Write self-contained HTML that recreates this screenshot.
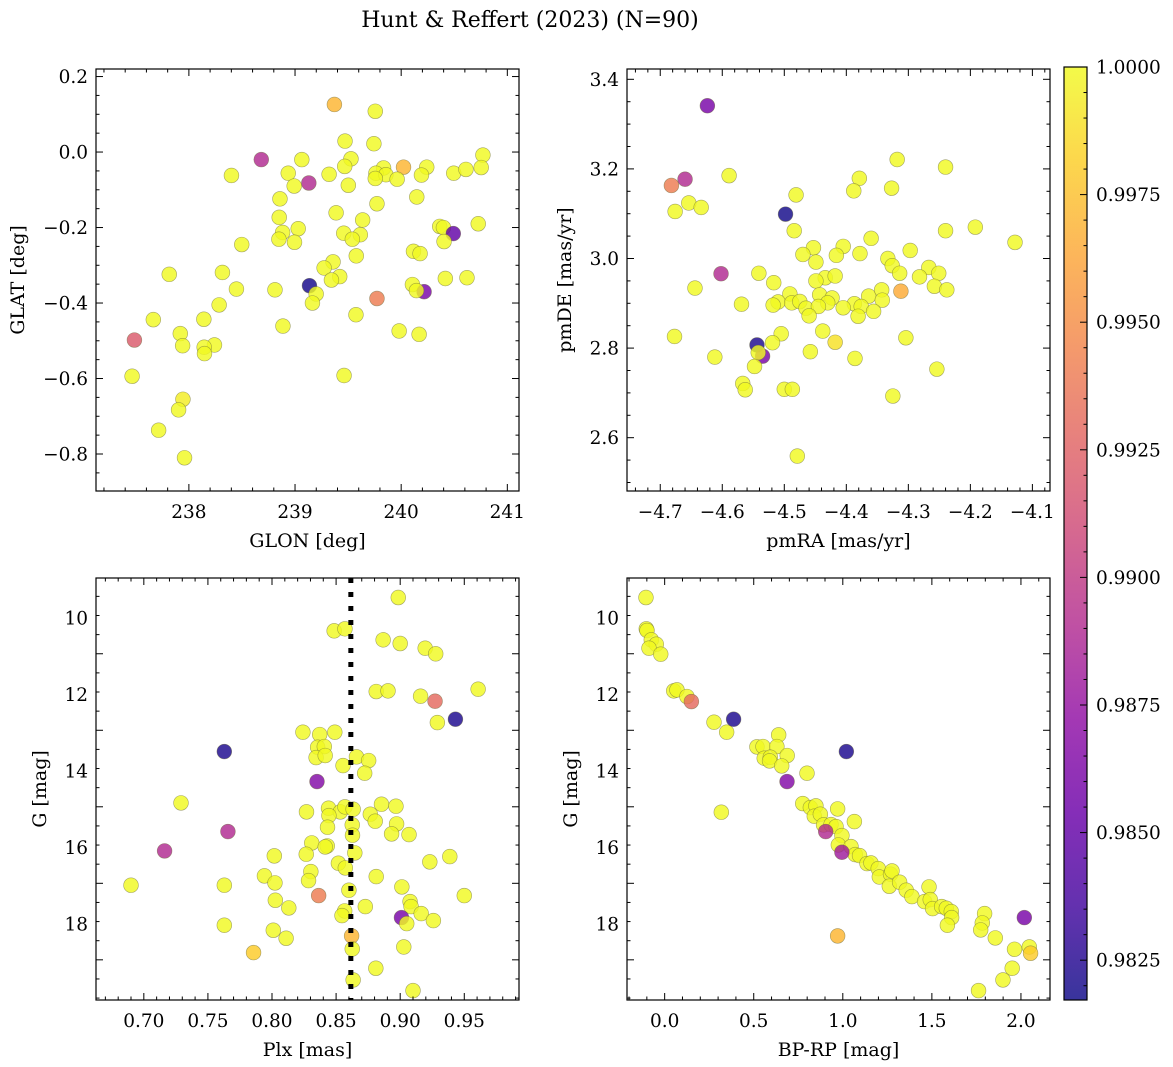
<!DOCTYPE html>
<html><head><meta charset="utf-8"><style>
html,body{margin:0;padding:0;background:#fff;}
svg{display:block;font-family:"DejaVu Serif","Liberation Serif",serif;}
</style></head><body>
<svg id="fig" width="1173" height="1067" viewBox="0 0 1173 1067" xmlns="http://www.w3.org/2000/svg">
<text x="530" y="27" font-size="22" text-anchor="middle">Hunt &amp; Reffert (2023) (N=90)</text>
</svg>
<script>
// ---- Panel 1: GLON / GLAT ----
const p1Glon=[239.371,239.756,239.471,239.743,238.682,239.064,239.527,239.468,240.770,240.022,240.241,239.834,238.401,238.936,239.321,239.762,239.856,240.191,240.495,240.610,240.754,239.756,239.962,239.130,238.992,239.502,238.858,240.147,239.772,239.387,238.851,239.637,240.726,240.363,240.398,239.030,238.883,239.459,240.491,239.615,238.848,239.540,238.995,240.404,238.498,240.116,240.178,239.577,239.358,239.274,237.815,238.316,239.421,239.343,240.416,240.620,239.136,240.106,239.199,238.448,238.811,240.216,240.144,239.772,239.164,238.285,239.574,237.665,238.141,238.886,239.981,240.169,237.919,237.487,237.941,238.241,238.144,238.147,237.465,239.462,237.944,237.903,237.715,237.959];
const p1Glat=[0.126,0.108,0.029,0.022,-0.020,-0.020,-0.018,-0.038,-0.008,-0.040,-0.040,-0.042,-0.062,-0.056,-0.059,-0.056,-0.060,-0.061,-0.056,-0.046,-0.041,-0.070,-0.072,-0.082,-0.090,-0.088,-0.124,-0.119,-0.137,-0.161,-0.173,-0.180,-0.190,-0.197,-0.200,-0.203,-0.213,-0.215,-0.216,-0.219,-0.231,-0.231,-0.239,-0.237,-0.245,-0.263,-0.269,-0.275,-0.291,-0.307,-0.324,-0.319,-0.330,-0.339,-0.335,-0.333,-0.354,-0.351,-0.376,-0.363,-0.365,-0.370,-0.367,-0.388,-0.400,-0.405,-0.431,-0.444,-0.443,-0.461,-0.474,-0.483,-0.481,-0.498,-0.513,-0.511,-0.517,-0.534,-0.594,-0.592,-0.655,-0.683,-0.737,-0.810];
const p1Prob=[0.997,1,1,1,0.989,1,1,1,1,0.997,1,1,1,1,1,1,1,1,1,1,1,1,1,0.989,1,1,1,1,1,1,1,1,1,1,1,1,1,1,0.985,1,1,1,1,1,1,1,1,1,1,1,1,1,1,1,1,1,0.982,1,1,1,1,0.986,1,0.994,1,1,1,1,1,1,1,1,1,0.992,1,1,1,1,1,1,0.9995,1,1,1];
// ---- Panel 2: pmRA / pmDE ----
const p2Pmra=[-4.624,-4.318,-4.240,-4.589,-4.660,-4.682,-4.379,-4.388,-4.327,-4.481,-4.654,-4.634,-4.676,-4.498,-4.484,-4.240,-4.192,-4.128,-4.360,-4.453,-4.405,-4.470,-4.416,-4.378,-4.297,-4.449,-4.333,-4.326,-4.314,-4.267,-4.251,-4.282,-4.602,-4.541,-4.517,-4.434,-4.418,-4.449,-4.258,-4.238,-4.312,-4.644,-4.491,-4.443,-4.423,-4.364,-4.343,-4.342,-4.510,-4.518,-4.488,-4.475,-4.430,-4.387,-4.376,-4.569,-4.465,-4.445,-4.405,-4.356,-4.460,-4.381,-4.677,-4.505,-4.438,-4.304,-4.519,-4.418,-4.544,-4.535,-4.542,-4.612,-4.458,-4.386,-4.548,-4.254,-4.567,-4.563,-4.500,-4.487,-4.325,-4.479];
const p2Pmde=[3.341,3.221,3.204,3.185,3.177,3.163,3.179,3.151,3.157,3.142,3.124,3.114,3.105,3.099,3.062,3.062,3.070,3.036,3.045,3.024,3.027,3.009,3.007,3.011,3.018,2.992,3.000,2.984,2.967,2.980,2.967,2.959,2.966,2.967,2.946,2.957,2.961,2.950,2.938,2.930,2.927,2.934,2.921,2.919,2.912,2.916,2.930,2.907,2.903,2.896,2.901,2.904,2.901,2.899,2.893,2.898,2.889,2.893,2.890,2.882,2.872,2.871,2.826,2.832,2.838,2.823,2.812,2.813,2.807,2.782,2.790,2.780,2.792,2.777,2.759,2.753,2.721,2.707,2.708,2.708,2.693,2.559];
const p2Prob=[0.986,1,1,1,0.989,0.994,1,1,1,1,1,1,1,0.9819,1,1,1,1,1,1,1,1,1,1,1,1,1,1,1,1,1,1,0.989,1,1,1,1,1,1,1,0.9965,1,1,1,1,1,1,1,1,1,1,1,1,1,1,1,1,1,1,1,1,1,1,1,1,1,1,0.999,0.9822,0.986,1,1,1,1,1,1,1,1,1,1,1,1];
// ---- Panel 3: Plx / G ----
const p3Plx=[0.8985,0.8485,0.8569,0.8867,0.9000,0.9195,0.9277,0.8813,0.8905,0.9159,0.9608,0.9272,0.9431,0.9290,0.8241,0.8372,0.8490,0.8356,0.8408,0.8344,0.8415,0.7628,0.8659,0.8754,0.8554,0.8723,0.8351,0.7290,0.8269,0.8441,0.8533,0.8569,0.8633,0.8444,0.8767,0.8854,0.8967,0.8805,0.8433,0.8626,0.8972,0.8933,0.9069,0.8628,0.7656,0.7162,0.8310,0.8431,0.8415,0.8646,0.8267,0.8018,0.9231,0.9387,0.8518,0.8572,0.8303,0.8285,0.7941,0.8023,0.8813,0.6900,0.7628,0.9013,0.8600,0.9500,0.8364,0.8026,0.8131,0.8728,0.9077,0.9085,0.9164,0.9259,0.8567,0.8546,0.9010,0.9051,0.7628,0.8010,0.8110,0.8621,0.7856,0.8626,0.9028,0.8810,0.8633,0.9100];
const p3G=[9.460,10.331,10.279,10.566,10.662,10.784,10.932,11.917,11.900,12.039,11.856,12.170,12.641,12.728,12.980,13.041,12.980,13.373,13.355,13.643,13.590,13.486,13.625,13.721,13.852,14.052,14.270,14.828,15.063,14.967,15.063,14.932,14.993,15.159,15.124,14.863,14.915,15.307,15.464,15.403,15.377,15.638,15.656,15.673,15.577,16.083,15.874,15.952,15.978,16.135,16.170,16.213,16.370,16.231,16.405,16.527,16.623,16.858,16.736,16.919,16.754,16.980,16.980,17.024,17.111,17.251,17.251,17.373,17.573,17.538,17.407,17.538,17.721,17.904,17.651,17.773,17.826,17.983,18.026,18.157,18.366,18.305,18.741,18.645,18.593,19.150,19.455,19.734];
const p3Prob=[1,1,1,1,1,1,1,1,1,1,1,0.993,0.9822,1,1,1,1,1,1,1,1,0.9822,1,1,1,1,0.9865,1,1,1,1,1,1,1,1,1,1,1,1,1,1,1,1,1,0.989,0.989,1,1,1,1,1,1,1,1,1,1,1,1,1,1,1,1,1,1,1,1,0.994,1,1,1,1,1,1,1,1,1,0.986,1,1,1,1,0.997,0.998,1,1,1,1,1];
const plxLine=[0.8615];
// ---- Panel 4: BP-RP / G ----
const p4Bprp=[-0.105,-0.103,-0.099,-0.075,-0.047,-0.088,-0.022,0.051,0.069,0.125,0.150,0.277,0.348,0.387,0.640,0.518,0.552,0.630,0.688,0.559,0.593,0.589,0.657,1.020,0.799,0.687,0.318,0.775,0.818,0.849,0.840,0.874,0.971,1.065,0.892,0.934,0.962,0.995,0.975,1.046,1.070,1.094,1.136,1.158,1.199,1.205,1.268,1.276,1.261,1.319,1.356,1.388,1.459,1.484,1.491,1.504,1.555,1.581,1.609,1.611,1.587,1.796,1.783,1.774,1.856,1.964,2.047,1.951,1.899,1.762,0.904,0.995,2.019,0.971,2.054];
const p4G=[9.460,10.279,10.322,10.566,10.680,10.784,10.941,11.900,11.874,12.048,12.179,12.719,12.980,12.641,13.050,13.364,13.355,13.355,13.590,13.660,13.634,13.730,13.861,13.486,14.052,14.270,15.072,14.845,14.950,14.906,15.176,15.124,14.985,15.316,15.403,15.394,15.447,15.682,15.926,15.969,16.179,16.205,16.414,16.397,16.545,16.763,16.693,16.606,17.007,16.902,17.111,17.277,17.407,17.024,17.355,17.590,17.538,17.582,17.669,17.826,18.026,17.721,17.965,18.148,18.357,18.654,18.593,19.150,19.455,19.734,15.577,16.118,17.826,18.305,18.758];
const p4Prob=[1,1,1,1,1,1,1,1,1,1,0.993,1,1,0.9822,1,1,1,1,1,1,1,1,1,0.9822,1,0.9865,1,1,1,1,1,1,1,1,1,1,1,1,1,1,1,1,1,1,1,1,1,1,1,1,1,1,1,1,1,1,1,1,1,1,1,1,1,1,1,1,1,1,1,1,0.989,0.988,0.986,0.997,0.998];
// ---- Tick labels / colorbar ----
const p1XTicks=[238,239,240,241];
const p1YTicks=[0.2,0.0,-0.2,-0.4,-0.6,-0.8];
const p2XTicks=[-4.7,-4.6,-4.5,-4.4,-4.3,-4.2,-4.1];
const p2YTicks=[3.4,3.2,3.0,2.8,2.6];
const p3XTicks=[0.70,0.75,0.80,0.85,0.90,0.95];
const p34YTicks=[10,12,14,16,18];
const p4XTicks=[0.0,0.5,1.0,1.5,2.0];
const cbTicks=[1.0000,0.9975,0.9950,0.9925,0.9900,0.9875,0.9850,0.9825];
const cbRange=[0.98172,1.0];

const FS=18.5, LFS=19;
const NS="http://www.w3.org/2000/svg";
const svg=document.getElementById('fig');
function mk(tag,attrs,parent){const e=document.createElementNS(NS,tag);for(const k in attrs)e.setAttribute(k,attrs[k]);(parent||svg).appendChild(e);return e;}
const plasma=[[13,8,135],[65,4,157],[106,0,168],[143,13,164],[177,42,144],[204,71,120],[225,100,98],[242,132,75],[252,166,54],[252,206,37],[240,249,33]];
function cmap(v){let t=(v-cbRange[0])/(cbRange[1]-cbRange[0]);t=Math.max(0,Math.min(1,t));const s=t*10,i=Math.min(9,Math.floor(s)),f=s-i;const a=plasma[i],b=plasma[i+1];return 'rgb('+[0,1,2].map(k=>Math.round(a[k]+(b[k]-a[k])*f)).join(',')+')';}
function fmt(v,d){return (v<0?'\u2212':'')+Math.abs(v).toFixed(d);}

function panel(cfg){
  const g=mk('g',{});
  
  
  const L=cfg.x0,R=cfg.x1,T=cfg.y0,B=cfg.y1;
  const sx=v=>L+(v-cfg.xd[0])/(cfg.xd[1]-cfg.xd[0])*(R-L);
  const sy=v=>T+(cfg.yd[1]-v)/(cfg.yd[1]-cfg.yd[0])*(B-T);
  const clip='clip-'+cfg.name;
  const cp=mk('clipPath',{id:clip},g);mk('rect',{x:L,y:T,width:R-L,height:B-T},cp);
  const pts=mk('g',{'clip-path':'url(#'+clip+')'},g);
  
  
  for(let i=0;i<cfg.xs.length;i++){
    const c=mk('circle',{cx:sx(cfg.xs[i]),cy:sy(cfg.ys[i]),r:7.4,fill:cmap(cfg.ps[i]),'fill-opacity':0.82,stroke:'#6b6b3a','stroke-opacity':0.6,'stroke-width':0.6},pts);
    
    
  }
  if(cfg.vline){const ln=mk('line',{x1:sx(cfg.vline),x2:sx(cfg.vline),y1:T,y2:B,stroke:'#000','stroke-width':5,'stroke-dasharray':'5 9'},pts);
    
    }
  const fr=mk('rect',{x:L,y:T,width:R-L,height:B-T,fill:'none',stroke:'#000','stroke-width':1.2},g);
  
  
  const tk=mk('g',{stroke:'#000','stroke-width':1},g);
  const eps=1e-9;
  for(let v=Math.ceil(cfg.xd[0]/cfg.xmin-eps)*cfg.xmin;v<=cfg.xd[1]+eps;v+=cfg.xmin){const x=sx(v);if(x<L+0.5||x>R-0.5)continue;
    const maj=Math.abs(v/cfg.xmaj-Math.round(v/cfg.xmaj))<1e-6;const len=maj?7:3.5;
    mk('line',{x1:x,x2:x,y1:B,y2:B-len},tk);mk('line',{x1:x,x2:x,y1:T,y2:T+len},tk);}
  for(let v=Math.ceil(cfg.yd[0]/cfg.ymin-eps)*cfg.ymin;v<=cfg.yd[1]+eps;v+=cfg.ymin){const y=sy(v);if(y<T+0.5||y>B-0.5)continue;
    const maj=Math.abs(v/cfg.ymaj-Math.round(v/cfg.ymaj))<1e-6;const len=maj?7:3.5;
    mk('line',{x1:L,x2:L+len,y1:y,y2:y},tk);mk('line',{x1:R,x2:R-len,y1:y,y2:y},tk);}
  cfg.xt.forEach(v=>{const t=mk('text',{x:sx(v),y:B+27,'font-size':FS,'text-anchor':'middle'},g);t.textContent=fmt(v,cfg.xdec);
    
    });
  cfg.yt.forEach(v=>{const t=mk('text',{x:L-8,y:sy(v)+6.5,'font-size':FS,'text-anchor':'end'},g);t.textContent=fmt(v,cfg.ydec);
    
    });
  const xl=mk('text',{x:(L+R)/2,y:B+56,'font-size':LFS,'text-anchor':'middle'},g);xl.textContent=cfg.xlab;
  
  
  const yx=cfg.ylx,yy=(T+B)/2;
  const yl=mk('text',{x:yx,y:yy,'font-size':LFS,'text-anchor':'middle',transform:'rotate(-90 '+yx+' '+yy+')'},g);yl.textContent=cfg.ylab;
  
  
}
panel({name:'glon-glat-panel',x0:96,x1:519,y0:69,y1:491,xd:[237.125,241.11],yd:[-0.898,0.22],xs:p1Glon,ys:p1Glat,ps:p1Prob,xt:p1XTicks,yt:p1YTicks,xdec:0,ydec:1,xmaj:1,xmin:0.2,ymaj:0.2,ymin:0.05,xlab:'GLON [deg]',ylab:'GLAT [deg]',ylx:24});
panel({name:'pm-panel',x0:627,x1:1050,y0:69,y1:491,xd:[-4.7536,-4.0716],yd:[2.481,3.423],xs:p2Pmra,ys:p2Pmde,ps:p2Prob,xt:p2XTicks,yt:p2YTicks,xdec:1,ydec:1,xmaj:0.1,xmin:0.02,ymaj:0.2,ymin:0.05,xlab:'pmRA [mas/yr]',ylab:'pmDE [mas/yr]',ylx:571});
panel({name:'plx-g-panel',x0:96,x1:519,y0:578,y1:1000,xd:[0.66269,0.99269],yd:[8.95,19.98],xs:p3Plx,ys:p3G.map(v=>28.93-v),ps:p3Prob,xt:p3XTicks,yt:[],xdec:2,ydec:0,xmaj:0.05,xmin:0.01,ymaj:2,ymin:0.5,xlab:'Plx [mas]',ylab:'G [mag]',ylx:46,vline:plxLine[0]});
panel({name:'cmd-panel',x0:627,x1:1050,y0:578,y1:1000,xd:[-0.2114,2.1631],yd:[8.95,19.98],xs:p4Bprp,ys:p4G.map(v=>28.93-v),ps:p4Prob,xt:p4XTicks,yt:[],xdec:1,ydec:0,xmaj:0.5,xmin:0.1,ymaj:2,ymin:0.5,xlab:'BP-RP [mag]',ylab:'G [mag]',ylx:577});
[[96,'plx'],[627,'cmd']].forEach(([L,n])=>{p34YTicks.forEach(v=>{const y=578+(v-8.95)/(19.98-8.95)*422;
  const t=mk('text',{x:L-8,y:y+6.5,'font-size':FS,'text-anchor':'end'});t.textContent=String(v);
  
  });});
const cb=mk('g',{});


const defs=mk('defs',{},cb);const lg=mk('linearGradient',{id:'cbg',x1:0,y1:1,x2:0,y2:0},defs);
for(let i=0;i<=20;i++){mk('stop',{offset:i/20,'stop-color':cmap(cbRange[0]+(cbRange[1]-cbRange[0])*i/20),'stop-opacity':0.82},lg);}
const CT=67,CB=1000,CL=1064,CR=1087;
const cy=v=>CT+(cbRange[1]-v)/(cbRange[1]-cbRange[0])*(CB-CT);
mk('rect',{x:CL,y:CT,width:CR-CL,height:CB-CT,fill:'url(#cbg)',stroke:'#000','stroke-width':1.2},cb);
for(let v=1.0;v>=cbRange[0];v-=0.0005){const y=cy(v);if(y<CT+1||y>CB-1)continue;const maj=Math.abs(v/0.0025-Math.round(v/0.0025))<1e-4;
  mk('line',{x1:CR,x2:CR-(maj?7:3.5),y1:y,y2:y,stroke:'#000','stroke-width':1},cb);}
cbTicks.forEach(v=>{const t=mk('text',{x:CR+9,y:cy(v)+6.5,'font-size':FS},cb);t.textContent=v.toFixed(4);
  
  });
</script>
</body></html>
